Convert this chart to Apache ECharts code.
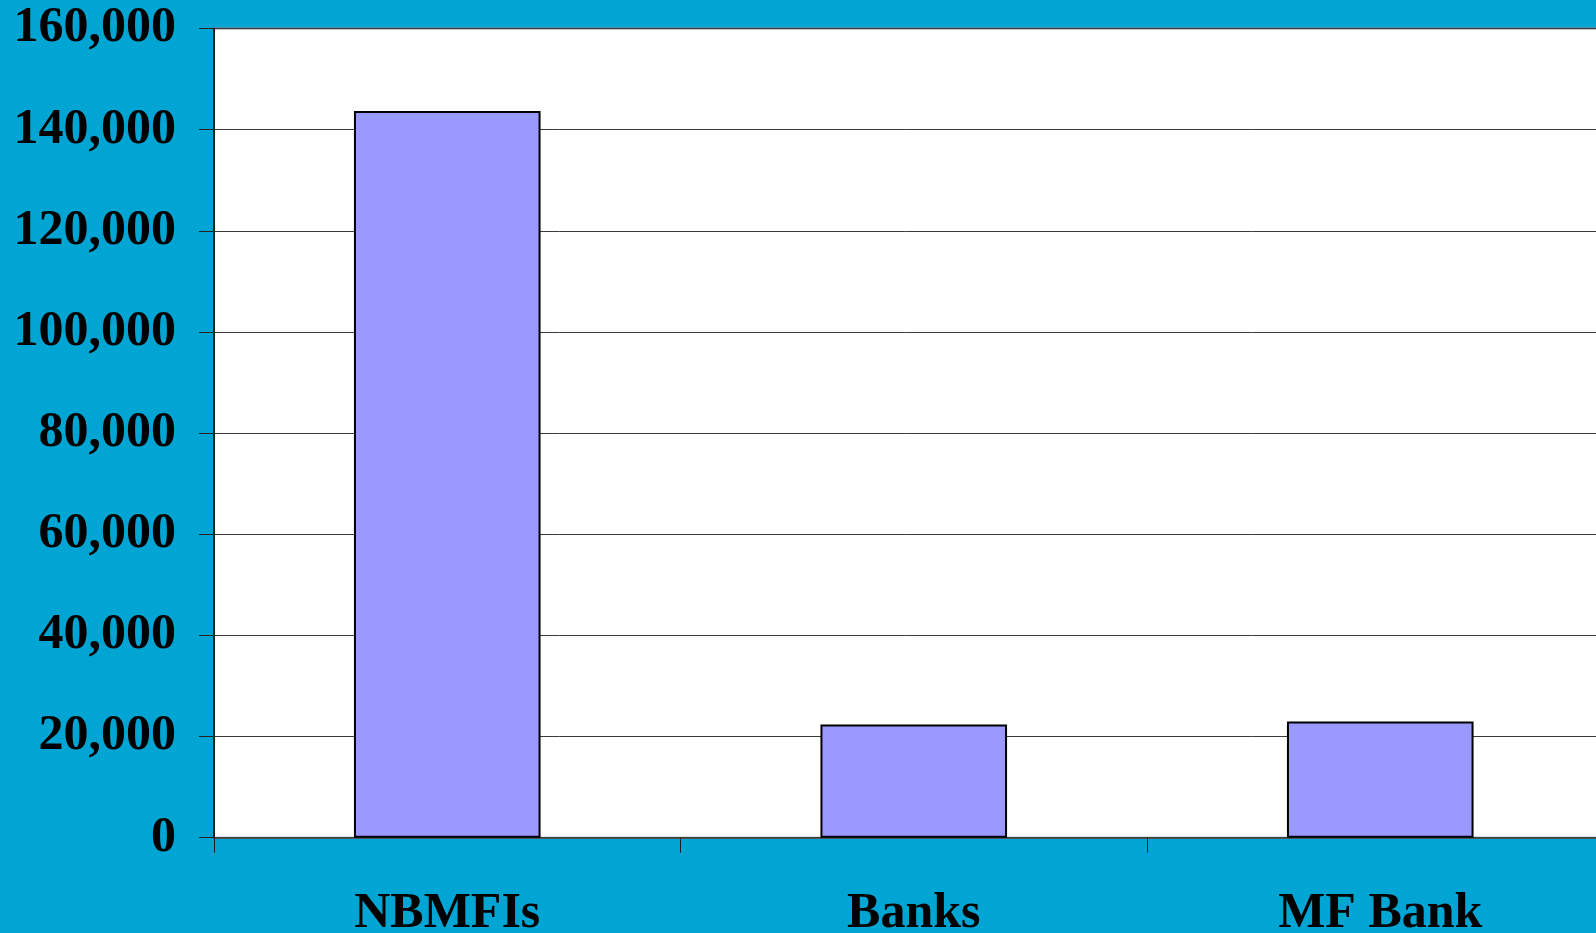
<!DOCTYPE html>
<html>
<head>
<meta charset="utf-8">
<style>
  html, body { margin: 0; padding: 0; background: #01A5D3; }
  #chart { width: 1596px; height: 933px; }
</style>
<script src="https://cdn.jsdelivr.net/npm/echarts@6/dist/echarts.min.js"></script>
</head>
<body>
<div id="chart"></div>
<script>
// Number of clients by institution type
const categories = ['NBMFIs', 'Banks', 'MF Bank'];
const clients = [143700, 22400, 23000];
const yTicks = { min: 0, max: 160000, interval: 20000 };

const chart = echarts.init(document.getElementById('chart'), null, { renderer: 'canvas' });

const serif = '"Liberation Serif", "Times New Roman", serif';

chart.setOption({
  backgroundColor: '#01A5D3',
  animation: false,
  grid: {
    left: 214,
    top: 28.5,
    // plot area runs past the right edge of the page
    width: 1399.5,
    height: 809.2,
    containLabel: false,
    outerBoundsMode: 'none',
    show: true,
    backgroundColor: '#ffffff',
    borderColor: '#8a8a8a',
    borderWidth: 2
  },
  xAxis: {
    type: 'category',
    data: categories,
    boundaryGap: true,
    axisLine: { show: true, lineStyle: { color: '#404040', width: 1.5 } },
    axisTick: { show: true, alignWithLabel: false, length: 15, lineStyle: { color: '#202020', width: 1 } },
    axisLabel: {
      margin: 51,
      color: '#000000',
      fontFamily: serif,
      fontWeight: 'bold',
      fontSize: 50
    },
    splitLine: { show: false }
  },
  yAxis: {
    type: 'value',
    min: yTicks.min,
    max: yTicks.max,
    interval: yTicks.interval,
    axisLine: { show: true, lineStyle: { color: '#202020', width: 2 } },
    axisTick: { show: true, length: 15, lineStyle: { color: '#202020', width: 1 } },
    axisLabel: {
      margin: 38,
      color: '#000000',
      fontFamily: serif,
      fontWeight: 'bold',
      fontSize: 50,
      formatter: v => v.toLocaleString('en-US')
    },
    splitLine: { show: true, lineStyle: { color: '#3a3a3a', width: 1 } }
  },
  series: [{
    type: 'bar',
    data: clients,
    barWidth: '40%',
    itemStyle: {
      color: '#9999FF',
      borderColor: '#000000',
      borderWidth: 2
    }
  }]
});
</script>
</body>
</html>
